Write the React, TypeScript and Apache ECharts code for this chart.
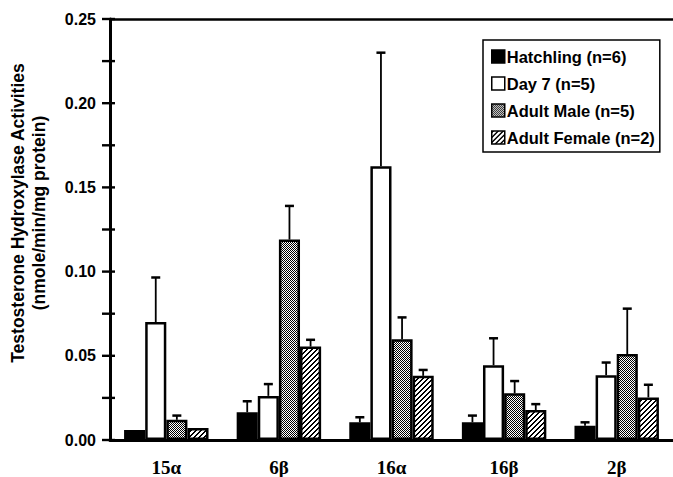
import React, { useEffect, useRef } from 'react';
import * as echarts from 'echarts';

const categories = ['15α', '6β', '16α', '16β', '2β'];
const seriesNames = ['Hatchling (n=6)', 'Day 7 (n=5)', 'Adult Male (n=5)', 'Adult Female (n=2)'];

const hatchling = [0.006, 0.0165, 0.0105, 0.0105, 0.0085];
const hatchlingErr = [0, 0.0065, 0.003, 0.004, 0.002];
const day7 = [0.07, 0.0262, 0.1625, 0.0444, 0.0385];
const day7Err = [0.0265, 0.007, 0.0675, 0.016, 0.0075];
const adultMale = [0.012, 0.119, 0.0598, 0.0278, 0.051];
const adultMaleErr = [0.0025, 0.02, 0.013, 0.0072, 0.027];
const adultFemale = [0.0071, 0.0555, 0.0381, 0.0178, 0.0253];
const adultFemaleErr = [0, 0.004, 0.0035, 0.0035, 0.0075];

const yMin = 0;
const yMax = 0.25;
const yStep = 0.025;
const yLabelStep = 0.05;
const yTickValues = [0, 0.025, 0.05, 0.075, 0.1, 0.125, 0.15, 0.175, 0.2, 0.225, 0.25];

const yTitle1 = 'Testosterone Hydroxylase Activities';
const yTitle2 = '(nmole/min/mg protein)';

const SANS = '"Liberation Sans", Arial, Helvetica, sans-serif';
const SERIF = '"Liberation Serif", "Times New Roman", serif';

function makePattern(kind: 'dots' | 'hatch') {
  const c = document.createElement('canvas');
  const n = kind === 'dots' ? 2 : 5;
  c.width = n;
  c.height = n;
  const ctx = c.getContext('2d')!;
  const img = ctx.createImageData(n, n);
  for (let y = 0; y < n; y++) {
    for (let x = 0; x < n; x++) {
      let black: boolean;
      if (kind === 'dots') black = (x + y) % 2 === 0;
      else black = ((x + y) % n) < 2;
      const v = black ? 0 : 255;
      const i = (y * n + x) * 4;
      img.data[i] = v;
      img.data[i + 1] = v;
      img.data[i + 2] = v;
      img.data[i + 3] = 255;
    }
  }
  ctx.putImageData(img, 0, 0);
  return { image: c, repeat: 'repeat', imageWidth: n, imageHeight: n } as any;
}

export default function App() {
  const ref = useRef<HTMLDivElement>(null);

  useEffect(() => {
    if (!ref.current) return;
    const chart = echarts.init(ref.current, undefined, { renderer: 'svg' });

    const values = [hatchling, day7, adultMale, adultFemale];
    const errs = [hatchlingErr, day7Err, adultMaleErr, adultFemaleErr];
    const fills: any[] = ['#000', '#fff', makePattern('dots'), makePattern('hatch')];

    const barSeries = values.map((v, s) => ({
      name: seriesNames[s],
      type: 'bar',
      xAxisIndex: 0,
      yAxisIndex: 0,
      data: v,
      barGap: '0%',
      barCategoryGap: '25%',
      itemStyle: { color: fills[s], borderColor: '#000', borderWidth: 2.5 },
      z: 2,
    }));

    const errData: number[][] = [];
    errs.forEach((e, s) => {
      e.forEach((err, c) => {
        if (err > 0) errData.push([c, values[s][c], err, s]);
      });
    });

    const errSeries = {
      name: 'errors',
      type: 'custom',
      xAxisIndex: 0,
      yAxisIndex: 0,
      data: errData,
      encode: { x: 0, y: 1 },
      z: 3,
      renderItem: (_params: any, api: any) => {
        const cat = api.value(0);
        const val = api.value(1);
        const err = api.value(2);
        const s = api.value(3);
        const base = api.coord([cat, val]);
        const top = api.coord([cat, val + err]);
        const band = api.size([1, 0])[0];
        const bw = (band * 0.75) / 4;
        const x = base[0] + (s - 1.5) * bw;
        return {
          type: 'group',
          children: [
            { type: 'line', shape: { x1: x, y1: base[1], x2: x, y2: top[1] }, style: { stroke: '#000', lineWidth: 1.8 } },
            { type: 'line', shape: { x1: x - 4.5, y1: top[1], x2: x + 4.5, y2: top[1] }, style: { stroke: '#000', lineWidth: 2.5 } },
          ],
        };
      },
    };

    // crossing tick marks on the y axis (drawn through the axis scale)
    const tickSeries = {
      name: 'yticks',
      type: 'custom',
      xAxisIndex: 0,
      yAxisIndex: 0,
      clip: false,
      silent: true,
      data: yTickValues.map((v) => [0, v]),
      encode: { x: 0, y: 1 },
      z: 5,
      renderItem: (params: any, api: any) => {
        const y = api.coord([0, api.value(1)])[1];
        const x0 = params.coordSys.x;
        return {
          type: 'line',
          shape: { x1: x0 - 8, y1: y, x2: x0 + 5, y2: y },
          style: { stroke: '#000', lineWidth: 2.4 },
        };
      },
    };

    const isLabel = (v: number) => Math.abs(v / yLabelStep - Math.round(v / yLabelStep)) < 1e-6;

    chart.setOption({
      animation: false,
      backgroundColor: '#fff',
      grid: { left: 110, right: -8, top: 19, bottom: 36, containLabel: false },
      legend: {
        data: seriesNames,
        orient: 'vertical',
        left: 483,
        top: 40,
        padding: [8, 5, 6, 8],
        itemGap: 10,
        itemWidth: 13,
        itemHeight: 13,
        icon: 'rect',
        borderColor: '#000',
        borderWidth: 1.5,
        borderRadius: 0,
        backgroundColor: '#fff',
        itemStyle: { borderColor: '#000', borderWidth: 1.5 },
        textStyle: { fontFamily: SANS, fontWeight: 'bold', fontSize: 16.5, color: '#000', padding: [0, 0, 0, -3] },
      },
      xAxis: [
        {
          type: 'category',
          data: categories,
          position: 'bottom',
          axisLine: { show: true, lineStyle: { color: '#000', width: 3 } },
          axisTick: { show: false },
          axisLabel: { fontFamily: SERIF, fontWeight: 'bold', fontSize: 19, color: '#000', margin: 18 },
          splitLine: { show: false },
        },
        {
          type: 'category',
          data: categories,
          position: 'top',
          axisLine: { show: true, lineStyle: { color: '#000', width: 2.5 } },
          axisTick: { show: false },
          axisLabel: { show: false },
          splitLine: { show: false },
        },
      ],
      yAxis: [
        {
          type: 'value',
          min: yMin,
          max: yMax,
          interval: yStep,
          position: 'left',
          axisLine: { show: true, lineStyle: { color: '#000', width: 3 } },
          axisTick: { show: false },
          axisLabel: {
            fontFamily: SANS,
            fontWeight: 'bold',
            fontSize: 16,
            color: '#000',
            margin: 14,
            formatter: (v: number) => (isLabel(v) ? v.toFixed(2) : ''),
          },
          splitLine: { show: false },
        },
      ],
      graphic: [
        {
          type: 'text',
          x: 18,
          y: 213,
          rotation: Math.PI / 2,
          style: {
            text: yTitle1,
            fontFamily: SANS,
            fontWeight: 'bold',
            fontSize: 17.5,
            fill: '#000',
            textAlign: 'center',
            textVerticalAlign: 'middle',
          },
        },
        {
          type: 'text',
          x: 39,
          y: 213,
          rotation: Math.PI / 2,
          style: {
            text: yTitle2,
            fontFamily: SANS,
            fontWeight: 'bold',
            fontSize: 17.5,
            fill: '#000',
            textAlign: 'center',
            textVerticalAlign: 'middle',
          },
        },
      ],
      series: [...barSeries, errSeries, tickSeries],
    });

    return () => chart.dispose();
  }, []);

  return (
    <div
      ref={ref}
      style={{ position: 'absolute', left: 0, top: 0, width: 673, height: 477, background: '#fff' }}
    />
  );
}
